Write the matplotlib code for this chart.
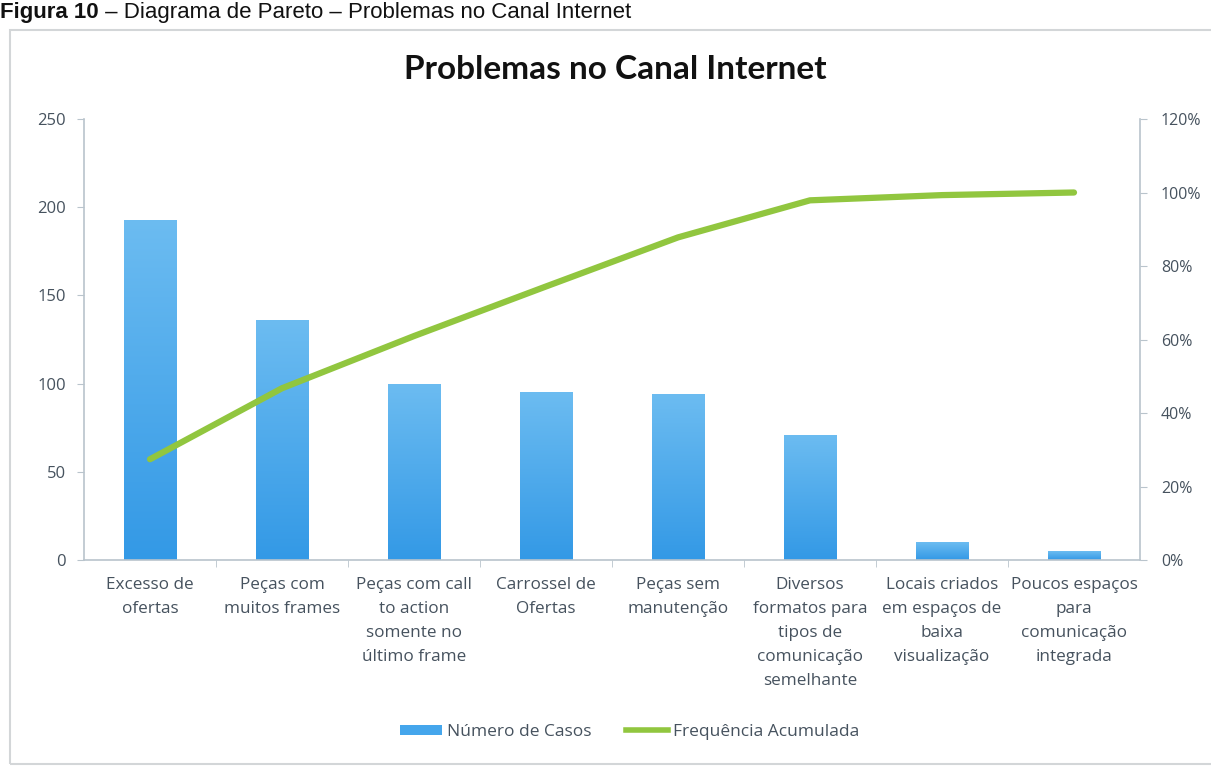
import matplotlib
matplotlib.use("Agg")
import numpy as np
import matplotlib.pyplot as plt
from matplotlib.patches import Rectangle, Patch
from matplotlib.lines import Line2D
from matplotlib.colors import LinearSegmentedColormap
from matplotlib.ticker import FuncFormatter

categorias = ["Excesso de\nofertas",
              "Peças com\nmuitos frames",
              "Peças com call\nto action\nsomente no\núltimo frame",
              "Carrossel de\nOfertas",
              "Peças sem\nmanutenção",
              "Diversos\nformatos para\ntipos de\ncomunicação\nsemelhante",
              "Locais criados\nem espaços de\nbaixa\nvisualização",
              "Poucos espaços\npara\ncomunicação\nintegrada"]
casos = [193, 136, 100, 95, 94, 71, 10, 5]
ticks_casos = [0, 50, 100, 150, 200, 250]
ticks_freq = [0, 20, 40, 60, 80, 100, 120]

# frequencia acumulada em %
total = sum(casos)
acum = []
s = 0
for c in casos:
    s += c
    acum.append(100.0 * s / total)

cor_barra = "#45a6ec"
cor_linha = "#91c63f"
cor_texto = "#46525e"
cor_eixo = "#b9c4cc"
fonte = "Open Sans"

W, H = 1211, 767
fig = plt.figure(figsize=(W / 100, H / 100), dpi=100)

# moldura do grafico
fig.patches.append(Rectangle((10 / W, 1 - 764 / H), 1.02, (764 - 30) / H,
                             transform=fig.transFigure, fill=False,
                             edgecolor="#d3d6d8", lw=1.5))

# legenda da figura
t1 = fig.text(0.0, 1 - 18 / H, "Figura 10", fontsize=16, fontweight="bold",
              family="Liberation Sans", color="#111111", va="baseline")
fig.canvas.draw()
bb = t1.get_window_extent()
fig.text(bb.x1 / W, 1 - 18 / H, " – Diagrama de Pareto – Problemas no Canal Internet",
         fontsize=16, family="Liberation Sans", color="#111111", va="baseline")

ax = fig.add_axes([84 / W, 1 - 560 / H, (1140 - 84) / W, (560 - 119) / H])
ax2 = ax.twinx()

x = list(range(len(casos)))
barras = ax.bar(x, casos, width=0.4, color=cor_barra, zorder=2)
ax2.plot(x, acum, color=cor_linha, lw=4.5, solid_capstyle="round", zorder=3)

# degradê vertical dentro de cada barra
degrade = LinearSegmentedColormap.from_list("deg", ["#3399e6", "#6cbcf1"])
grad = np.linspace(0, 1, 256).reshape(-1, 1)
for b in barras:
    x0, y0 = b.get_x(), b.get_y()
    im = ax.imshow(grad, cmap=degrade, aspect="auto", origin="lower",
                   extent=(x0, x0 + b.get_width(), y0, y0 + b.get_height()),
                   zorder=2.1)
    im.set_clip_path(b)

ax.set_xlim(-0.5, len(casos) - 0.5)
ax.set_ylim(0, 250)
ax.set_yticks(ticks_casos)
ax2.set_ylim(0, 120)
ax2.set_yticks(ticks_freq)
ax2.yaxis.set_major_formatter(FuncFormatter(lambda v, p: "%d%%" % v))

ax.set_xticks(x)
ax.set_xticklabels(categorias, fontsize=12.3, family=fonte, color=cor_texto,
                   linespacing=1.68, va="top")
ax.tick_params(axis="x", length=0, pad=12)
# marcas entre as categorias
ax.set_xticks([i + 0.5 for i in x[:-1]], minor=True)
ax.tick_params(axis="x", which="minor", length=5, color=cor_eixo, direction="out")

ax.tick_params(axis="y", length=5, color=cor_eixo, labelsize=12,
               labelcolor=cor_texto, pad=8)
ax2.tick_params(axis="y", length=5, color=cor_eixo, labelsize=11.5,
                labelcolor=cor_texto, pad=10)
for lab in ax.get_yticklabels() + ax2.get_yticklabels():
    lab.set_family(fonte)

for a in (ax, ax2):
    a.spines["top"].set_visible(False)
    for k in ("left", "right", "bottom"):
        a.spines[k].set_color(cor_eixo)
        a.spines[k].set_linewidth(1.2)
ax.spines["right"].set_visible(False)
ax2.spines["left"].set_visible(False)
ax2.spines["bottom"].set_visible(False)

fig.text(615 / W, 1 - 79 / H, "Problemas no Canal Internet", fontsize=24,
         fontweight="bold", family="Lato", color="#111111", ha="center",
         va="baseline")

handles = [Patch(facecolor=cor_barra, edgecolor="none"),
           Line2D([0], [0], color=cor_linha, lw=4)]
fig.legend(handles, ["Número de Casos", "Frequência Acumulada"],
           loc="center", bbox_to_anchor=(630 / W, 1 - 732 / H), ncol=2,
           frameon=False, prop={"family": fonte, "size": 12.5},
           labelcolor=cor_texto, handlelength=2.4, handleheight=0.5,
           handletextpad=0.3, columnspacing=2.0)

fig.savefig("out.png", dpi=100)
